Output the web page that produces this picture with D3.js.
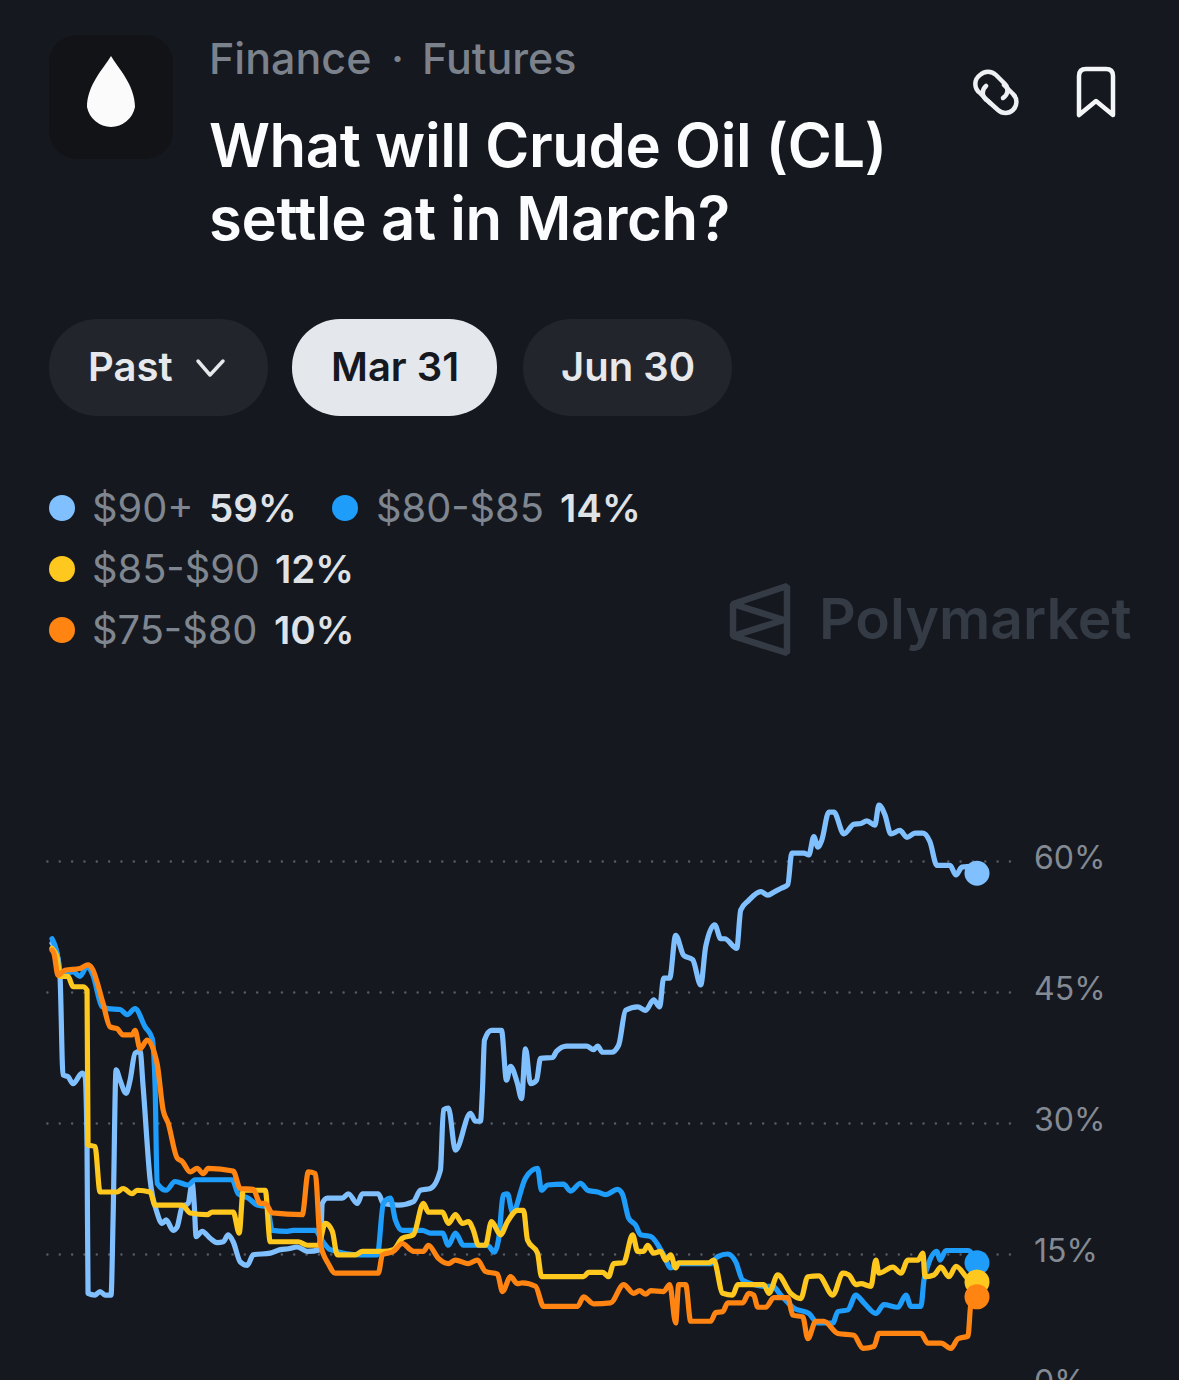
<!DOCTYPE html>
<html><head><meta charset="utf-8">
<script src="https://cdn.jsdelivr.net/npm/d3@7/dist/d3.min.js"></script>
<style>html,body{margin:0;padding:0;background:#15181f;overflow:hidden}svg{display:block}text{font-family:Inter,"Noto Sans",sans-serif}</style>
</head><body><svg id="c" width="1179" height="1380"></svg>
<script>
const crumbs = ["Finance","·","Futures"];
const titleLines = ["What will Crude Oil (CL)","settle at in March?"];
const pills = ["Past","Mar 31","Jun 30"];
const yTicks = [0,15,30,45,60];
const names = ["$90+","$80-$85","$85-$90","$75-$80"];
const latest = [59,14,12,10];
const colors = ["#80c0ff","#1f9dfb","#ffc81e","#ff8412"];

const s90 = [[0,50.6],[5,49.4],[8,46.8],[11,35.5],[16,35.3],[21,34.5],[30,35.7],[33,35.3],[35,27.3],[36,10.5],[43,10.3],[48,10.7],[53,10.3],[59,10.3],[61,18.9],[64,36.1],[68,34.9],[74,33.4],[78,34.9],[83,38],[88,38.2],[91,34.2],[98,23.5],[105,19.7],[110,18.5],[114,18.9],[121,17.7],[125,18.1],[130,20.4],[136,20.8],[140,23.1],[142,20.8],[144,17],[150,17.6],[158,16.8],[165,16.3],[171,16.4],[176,17.2],[181,16.4],[188,14.1],[195,13.7],[201,14.9],[218,15.1],[228,15.5],[236,15.6],[245,15.8],[255,15.3],[268,15.5],[270,20.8],[275,21.4],[290,21.4],[296,21.9],[305,20.8],[310,21.9],[326,21.9],[331,20.8],[346,20.6],[361,21],[368,22.3],[378,22.5],[388,24.6],[391,31.5],[396,31.7],[403,26.9],[418,31.1],[423,30.2],[428,30.2],[430,33.8],[432,39.5],[439,40.6],[449,40.6],[454,34.9],[458,36.5],[465,34.5],[469,32.8],[473,38.5],[478,34.5],[484,34.9],[488,37.4],[500,37.5],[504,38.2],[514,38.8],[534,38.8],[541,38.4],[545,38.8],[550,38.1],[559,38.1],[566,38.9],[573,42.9],[585,43.3],[593,42.9],[601,44.1],[607,43.3],[611,46.6],[617,46.6],[623,51.5],[631,49.2],[640,48.7],[648,45.8],[653,50.2],[662,52.7],[668,51.1],[672,51.1],[684,50],[688,54.4],[696,55.5],[708,56.5],[715,56.1],[722,56.5],[729,56.9],[735,57.3],[739,60.9],[751,60.9],[756,60.7],[761,62.8],[765,61.6],[769,62.4],[776,65.6],[781,65.6],[791,63.1],[801,64.2],[808,64.3],[814,64.6],[822,64.1],[826,66.4],[832,65.3],[838,63.1],[847,63.5],[854,62.7],[862,63.2],[870,63.2],[877,62.2],[884,59.5],[897,59.5],[903,58.4],[909,59.3],[919,59.4],[924,58.6]];

const s80 = [[0,51.1],[5,49.4],[8,47.1],[21,47.3],[28,46.8],[35,47.9],[41,46.9],[50,43.3],[56,43.1],[68,43],[75,42.4],[83,43.1],[93,41],[100,39.7],[103,34.2],[105,23.1],[114,22.3],[123,23.3],[136,22.9],[143,23.5],[180,23.5],[186,21.9],[196,21.4],[205,20.6],[215,20.4],[220,17.7],[235,17.6],[241,17.7],[263,17.7],[270,16.5],[278,15.5],[308,14.9],[325,14.9],[331,20.8],[338,21.4],[343,18.9],[350,17.7],[370,17.7],[378,17.4],[390,17.4],[396,16],[403,17.4],[411,16],[420,16],[435,16],[442,15.2],[446,16.6],[451,21.8],[455,21.9],[460,19.8],[473,23.7],[485,24.8],[489,22.3],[495,22.9],[511,23],[518,22.2],[528,23.1],[535,22.3],[545,22.1],[553,21.8],[565,22.4],[570,21.8],[576,19.1],[583,18.3],[588,17.2],[598,17],[611,14.9],[618,13.4],[625,13.9],[658,13.9],[665,14.7],[675,15],[683,14.1],[690,12],[713,11.3],[720,11.3],[728,10.3],[741,8.8],[756,8.2],[765,7.1],[780,7.1],[785,8.4],[795,8.6],[803,10.3],[811,9.4],[823,8.2],[831,9.2],[845,8.9],[853,10.3],[858,9],[868,9],[871,12],[875,13.7],[884,15.3],[887,14.3],[893,15.4],[915,15.4],[924,14]];

const s85 = [[0,50],[5,49],[8,46.8],[16,46.8],[21,45.6],[31,45.6],[35,45.2],[36,27.5],[43,27.3],[48,22.1],[65,22.1],[71,22.5],[80,21.9],[85,22.3],[98,22.1],[103,20.6],[130,20.6],[138,19.7],[155,19.5],[160,19.8],[181,19.8],[187,17.4],[191,22.3],[213,22.3],[218,16.4],[246,16.4],[255,16],[266,16],[273,18.5],[280,17.6],[285,14.9],[303,14.9],[310,15.3],[331,15.3],[341,15.5],[350,16.8],[361,17.2],[371,20.8],[376,19.8],[390,19.8],[396,18.5],[403,19.5],[410,18.5],[416,18.7],[421,17.7],[426,16],[433,16],[439,18.7],[448,17.2],[455,18.7],[465,20],[471,20],[475,16.6],[485,15.1],[489,12.4],[531,12.4],[536,12.9],[550,12.9],[556,12.4],[561,13.9],[571,14],[580,17.2],[585,15.3],[591,15.3],[595,16],[601,15.1],[608,15.3],[613,14.3],[618,14.9],[623,13.4],[626,14],[656,14],[661,14.3],[670,10.5],[680,10.3],[685,11.5],[711,11.5],[716,10.5],[725,12.6],[738,10.5],[748,9.9],[755,12.4],[766,12.5],[780,10.3],[790,12.8],[796,12.6],[803,11.5],[808,11.6],[818,11.3],[823,14.3],[826,12.8],[840,13.5],[848,12.8],[855,14.3],[865,14.3],[870,15.1],[872,12.4],[881,12.6],[888,13.5],[896,12.4],[903,13.6],[915,12.2],[924,11.8]];

const s75 = [[0,49.8],[2,49.4],[6,46.9],[13,47.5],[28,47.7],[36,48.1],[40,47.7],[51,43.7],[58,41],[65,40.8],[71,40.1],[80,40.1],[83,40.6],[88,38.5],[95,39.5],[105,36.8],[111,31.5],[116,30],[125,26],[130,25.6],[138,24.4],[145,24.8],[151,24.2],[156,24.8],[181,24.5],[188,22.5],[201,22.4],[208,20.8],[213,20.8],[220,19.7],[250,19.5],[256,24.4],[263,24.2],[268,16.2],[276,13.9],[283,12.8],[326,12.8],[330,14.9],[341,15.3],[350,16.2],[358,15.5],[361,15.3],[371,15.3],[376,16],[386,14.5],[396,13.9],[403,14.3],[416,13.9],[425,14.3],[433,13],[445,12.7],[450,10.7],[458,12.4],[465,11.6],[470,11.7],[483,11.3],[491,9],[525,9],[531,10.1],[541,9.3],[558,9.4],[571,11.5],[581,10.5],[587,10.8],[593,10.4],[598,10.8],[611,10.7],[617,11.5],[623,7.1],[626,11.5],[633,11.5],[638,7.3],[658,7.3],[663,8.3],[670,8.4],[675,9.4],[690,9.4],[696,10.5],[701,10.3],[705,8.9],[713,8.9],[721,10],[735,10],[740,8],[750,7.8],[755,5.3],[763,7.3],[771,7.3],[785,5.9],[801,5.7],[810,4.2],[821,4.4],[826,5.9],[868,5.9],[875,4.8],[888,4.8],[898,4.2],[905,5.3],[915,5.6],[918,9.4],[924,10.1]];

const allSeries = [s90,s80,s85,s75];

const svg = d3.select("#c");
const x = d3.scaleLinear().domain([0,924]).range([52,977]);
const y = d3.scaleLinear().domain([0,60]).range([1385,861]);

// ---------- header ----------
svg.append("rect").attr("x",49).attr("y",35).attr("width",124).attr("height",124).attr("rx",28).attr("fill","#111317");
svg.append("path").attr("fill","#fbfbfb")
  .attr("d","M111 56 C104 68 87 85 87 107 A24.5 25 0 0 0 135 107 C135 85 118 68 111 56Z");

const grayT = "#7b828c";
svg.append("text").attr("x",209).attr("y",73.5).attr("font-size",43).attr("font-weight",500).attr("fill",grayT).text(crumbs[0]);
svg.append("text").attr("x",391).attr("y",73.5).attr("font-size",43).attr("font-weight",500).attr("fill",grayT).text(crumbs[1]);
svg.append("text").attr("x",422).attr("y",73.5).attr("font-size",43).attr("font-weight",500).attr("fill",grayT).text(crumbs[2]);
titleLines.forEach((t,i)=>svg.append("text").attr("x",209).attr("y",167+i*73).attr("font-size",59.8).attr("font-weight",600).attr("fill","#fbfcfd").attr("letter-spacing",-0.4).text(t));

// link icon
const link = svg.append("g").attr("fill","none").attr("stroke","#eef0f3").attr("stroke-width",4.5).attr("stroke-linecap","round");
link.append("path").attr("d","M990 103 L980 93 A11 11 0 0 1 980 75 A11.5 11.5 0 0 1 996 75 L1005 84 A9 9 0 0 1 1003 98");
link.append("path").attr("d","M986 86 A9 9 0 0 0 988 101 L998 110 A11 11 0 0 0 1013 110 A11 11 0 0 0 1013 94 L1004 85");
// bookmark icon
svg.append("path").attr("fill","none").attr("stroke","#f4f5f7").attr("stroke-width",4.5).attr("stroke-linejoin","round")
  .attr("d","M1079 115 L1079 76 Q1079 69 1086 69 L1106 69 Q1113 69 1113 76 L1113 115 L1096 101Z");

// ---------- pills ----------
[[49,219,pills[0],"#22252c","#e6e8eb",88],[292,205,pills[1],"#e4e7ec","#15181f",331],[523,209,pills[2],"#22252c","#e6e8eb",561]].forEach(p=>{
  svg.append("rect").attr("x",p[0]).attr("y",319).attr("width",p[1]).attr("height",97).attr("rx",48).attr("fill",p[3]);
  svg.append("text").attr("x",p[5]).attr("y",381).attr("font-size",40).attr("font-weight",600).attr("fill",p[4]).text(p[2]);
});
svg.append("path").attr("fill","none").attr("stroke","#e6e8eb").attr("stroke-width",3.5).attr("stroke-linecap","round").attr("stroke-linejoin","round")
  .attr("d","M198 361 L210 375 L223 361");

// ---------- legend ----------
const legendPos = [[62,508,92,209],[345,508,376,560],[62,569,92,275],[62,630,92,274]];
const legendOrder = [0,1,2,3];
legendOrder.forEach((k,i)=>{
  const p = legendPos[i];
  svg.append("circle").attr("cx",p[0]).attr("cy",p[1]).attr("r",13).attr("fill",colors[k]);
  svg.append("text").attr("x",p[2]).attr("y",p[1]+14).attr("font-size",39.8).attr("font-weight",400).attr("fill","#7f868f").text(names[k]);
  svg.append("text").attr("x",p[3]).attr("y",p[1]+14).attr("font-size",38.6).attr("font-weight",600).attr("fill","#dfe2e6").text(latest[k]+"%");
});

// ---------- watermark ----------
svg.append("path").attr("fill","none").attr("stroke","#353b45").attr("stroke-width",6.5).attr("stroke-linejoin","bevel")
  .attr("d","M787 586 L733 604 L733 636 L787 653 Z M733 604 L784 620 L733 636");
svg.append("text").attr("x",819).attr("y",639).attr("font-size",57).attr("font-weight",600).attr("fill","#353b45").text("Polymarket");

// ---------- axis and grid ----------
const axis = d3.axisRight(y).tickValues(yTicks).tickFormat(d=>d+"%").tickSize(-963).tickPadding(24);
const ag = svg.append("g").attr("transform","translate(1010,0)").call(axis);
ag.select(".domain").remove();
ag.selectAll("line").attr("stroke","#565c66").attr("stroke-width",2.4).attr("stroke-linecap","round").attr("stroke-dasharray","0.1 12.24");
ag.selectAll("text").attr("fill","#848a93").attr("font-size",32).attr("font-family","Inter,sans-serif").attr("dy","0.32em").attr("y",-3);

// ---------- lines ----------
const line = d3.line().x(d=>x(d[0])).y(d=>y(d[1])).curve(d3.curveMonotoneX);
const marks = svg.append("g");
marks.selectAll("path").data(allSeries).join("path")
  .attr("d",line).attr("fill","none").attr("stroke",(d,i)=>colors[i])
  .attr("stroke-width",5.2).attr("stroke-linejoin","round").attr("stroke-linecap","round");
marks.selectAll("circle").data(allSeries).join("circle")
  .attr("cx",d=>x(d[d.length-1][0])).attr("cy",d=>y(d[d.length-1][1])).attr("r",12.5).attr("fill",(d,i)=>colors[i]);
</script></body></html>
